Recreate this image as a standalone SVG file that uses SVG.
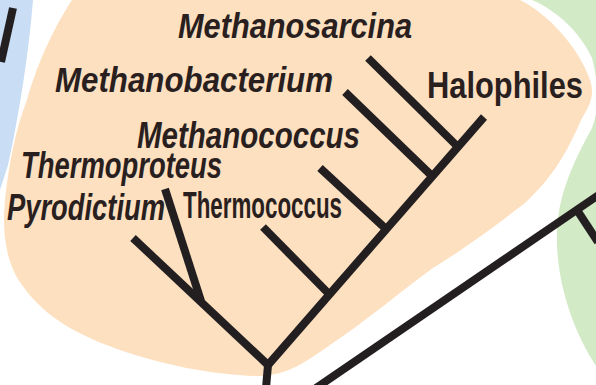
<svg xmlns="http://www.w3.org/2000/svg" width="596" height="385" viewBox="0 0 596 385">
<style>
.bg{stroke:none}
.br{stroke:#231f20;stroke-width:8;fill:none;stroke-linecap:butt}
.lab{font-family:"Liberation Sans Narrow","Liberation Sans",Arial,sans-serif;font-weight:bold;fill:#2a1f1f}
.it{font-style:italic}
</style>
<rect width="596" height="385" fill="#ffffff"/>
<g id="regions">
<path class="bg" fill="#c9ddf4" d="M0,0 L33,0 C29,50 20,110 8,165 L0,190 Z"/>
<path class="bg" fill="#d3eac7" d="M532,0 C556,10 580,32 592,58 C599,85 599,110 592,128 C572,165 555,200 557,245 C559,295 578,340 600,372 L600,0 Z"/>
<path class="bg" fill="#fde0bf" d="M72,0 L520,0 C545,12 578,45 590,80 C595,95 590,105 582,118 C568,150 555,175 525,203 C500,222 470,245 433,268 C400,292 370,318 330,345 C305,362 290,374 262,376 C215,376 160,364 120,350 C80,336 45,318 22,285 C5,262 2,230 5,200 C8,170 15,130 27,100 C35,70 52,30 72,0 Z"/>
</g>
<g id="connectors">
<line class="br" x1="13" y1="8" x2="1" y2="62"/>
<line class="br" x1="268" y1="365" x2="484" y2="117"/>
<line class="br" x1="268" y1="365" x2="266" y2="388"/>
<line class="br" x1="133" y1="238" x2="268" y2="365"/>
<line class="br" x1="165" y1="189" x2="201" y2="301"/>
<line class="br" x1="263" y1="227" x2="329" y2="294"/>
<line class="br" x1="320" y1="168" x2="386" y2="229"/>
<line class="br" x1="345" y1="92" x2="432" y2="176"/>
<line class="br" x1="368" y1="58" x2="458" y2="147"/>
<line class="br" x1="316" y1="388" x2="600" y2="194"/>
<line class="br" x1="577" y1="210" x2="598" y2="242"/>
</g>
<g id="Methanosarcina"><text class="lab it" x="178" y="38" font-size="35" textLength="234" lengthAdjust="spacingAndGlyphs">Methanosarcina</text></g>
<g id="Methanobacterium"><text class="lab it" x="55" y="92" font-size="35" textLength="278" lengthAdjust="spacingAndGlyphs">Methanobacterium</text></g>
<g id="Methanococcus"><text class="lab it" x="137" y="148" font-size="37" textLength="223" lengthAdjust="spacingAndGlyphs">Methanococcus</text></g>
<g id="Thermoproteus"><text class="lab it" x="21" y="178" font-size="36" textLength="201" lengthAdjust="spacingAndGlyphs">Thermoproteus</text></g>
<g id="Pyrodictium"><text class="lab it" x="7" y="220" font-size="37" textLength="158" lengthAdjust="spacingAndGlyphs">Pyrodictium</text></g>
<g id="Thermococcus"><text class="lab" x="183" y="218" font-size="36" textLength="159" lengthAdjust="spacingAndGlyphs">Thermococcus</text></g>
<g id="Halophiles"><text class="lab" x="427" y="98" font-size="36" textLength="156" lengthAdjust="spacingAndGlyphs">Halophiles</text></g>
</svg>
